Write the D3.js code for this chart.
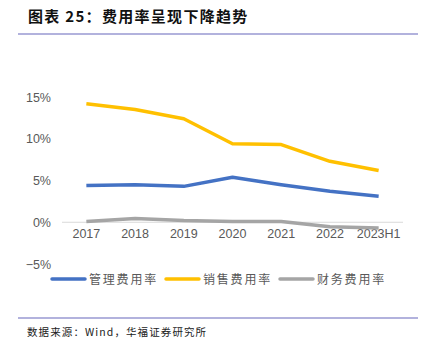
<!DOCTYPE html>
<html lang="zh">
<head>
<meta charset="UTF-8">
<script src="https://d3js.org/d3.v7.min.js"></script>
<style>
    body { margin: 0; background: #fff; }
    svg { display: block; }
</style>
</head>
<body>
<div id="chart"></div>
<script>
    // data
    const years = ["2017", "2018", "2019", "2020", "2021", "2022", "2023H1"];
    const mgmtRate = [4.4, 4.5, 4.3, 5.4, 4.5, 3.7, 3.1];
    const salesRate = [14.2, 13.5, 12.4, 9.4, 9.3, 7.3, 6.2];
    const finRate = [0.1, 0.45, 0.2, 0.1, 0.1, -0.55, -0.7];
    const seriesNames = ["管理费用率", "销售费用率", "财务费用率"];
    const yTicks = [-5, 0, 5, 10, 15];

    const width = 427, height = 353;
    const colors = ["#4472C4", "#FFC000", "#A5A5A5"];
    const font = "'Noto Sans CJK SC', 'Noto Sans', sans-serif";

    const svg = d3.select("#chart").append("svg")
        .attr("width", width)
        .attr("height", height);

    // title + rules
    svg.append("text")
        .attr("x", 28).attr("y", 22)
        .attr("font-family", font)
        .attr("font-size", 15)
        .attr("font-weight", "bold")
        .attr("letter-spacing", 1.3)
        .attr("fill", "#111")
        .text("图表 25：费用率呈现下降趋势");

    svg.append("line")
        .attr("x1", 18).attr("x2", 418)
        .attr("y1", 34).attr("y2", 34)
        .attr("stroke", "#6666bb").attr("stroke-width", 1.2);

    svg.append("line")
        .attr("x1", 18).attr("x2", 418)
        .attr("y1", 318).attr("y2", 318)
        .attr("stroke", "#6666bb").attr("stroke-width", 1.2);

    svg.append("text")
        .attr("x", 27).attr("y", 336)
        .attr("font-family", font)
        .attr("font-size", 10.5)
        .attr("letter-spacing", 1.1)
        .attr("fill", "#222")
        .text("数据来源：Wind，华福证券研究所");

    // scales
    const x = d3.scaleBand().domain(years).range([62, 403]);
    const y = d3.scaleLinear().domain([-5, 15]).range([264, 97]);

    // y axis labels
    const yAxis = d3.axisLeft(y).tickValues(yTicks)
        .tickFormat(d => (d < 0 ? "\u2212" + Math.abs(d) : d) + "%")
        .tickSize(0).tickPadding(0);
    const gy = svg.append("g").attr("transform", "translate(51,0)").call(yAxis);
    gy.select(".domain").remove();
    gy.selectAll("text")
        .attr("font-family", "'Liberation Sans', Arial, sans-serif")
        .attr("font-size", 12.5)
        .attr("fill", "#595959");

    // zero line
    svg.append("line")
        .attr("x1", 62).attr("x2", 403)
        .attr("y1", y(0)).attr("y2", y(0))
        .attr("stroke", "#d9d9d9").attr("stroke-width", 1);

    // x labels
    const xAxis = d3.axisBottom(x).tickSize(0).tickPadding(0);
    const gx = svg.append("g").attr("transform", "translate(0,229)").call(xAxis);
    gx.select(".domain").remove();
    gx.selectAll("text")
        .attr("font-family", "'Liberation Sans', Arial, sans-serif")
        .attr("font-size", 12.5)
        .attr("fill", "#595959");

    // lines
    const line = d3.line()
        .x((d, i) => x(years[i]) + x.bandwidth() / 2)
        .y(d => y(d));

    [mgmtRate, salesRate, finRate].forEach((s, i) => {
        svg.append("path")
            .datum(s)
            .attr("fill", "none")
            .attr("stroke", colors[i])
            .attr("stroke-width", 3.5)
            .attr("stroke-linejoin", "round")
            .attr("d", line);
    });

    // legend
    const legendX = [52, 166, 280];
    seriesNames.forEach((name, i) => {
        const g = svg.append("g").attr("transform", `translate(${legendX[i]},279)`);
        g.append("line")
            .attr("x1", 0).attr("x2", 33)
            .attr("stroke", colors[i]).attr("stroke-width", 3.5)
            .attr("stroke-linecap", "round");
        g.append("text")
            .attr("x", 37).attr("y", 4.5)
            .attr("font-family", font)
            .attr("font-size", 12)
            .attr("letter-spacing", 1.8)
            .attr("fill", "#595959")
            .text(name);
    });
</script>
</body>
</html>
